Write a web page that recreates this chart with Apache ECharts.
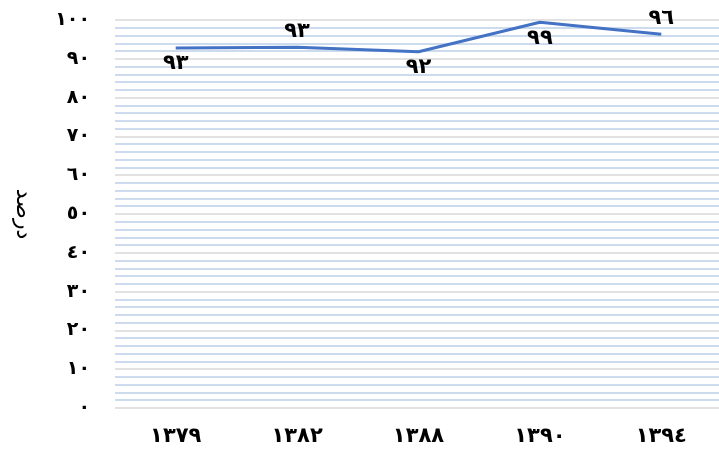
<!DOCTYPE html>
<html><head><meta charset="utf-8">
<script src="https://cdn.jsdelivr.net/npm/echarts@6/dist/echarts.min.js"></script>
<style>html,body{margin:0;padding:0;background:#fff}#c{width:719px;height:452px}</style>
</head><body><div id="c"></div>
<script>
var categories = ['1379', '1382', '1388', '1390', '1394'];
var values = [92.8, 93.0, 91.8, 99.4, 96.3];
var labelPositions = ['bottom', 'top', 'bottom', 'bottom', 'top'];
var axisTitle = 'درصد';

var digits = '٠١٢٣٤٥٦٧٨٩';
function fa(s) { return String(s).replace(/[0-9]/g, function (d) { return digits[+d]; }); }
var labelOffsets = [[-10, 2], [0, 0], [6, 0], [0, 0], [0, 0]];

var chart = echarts.init(document.getElementById('c'));
var FONT = 'DejaVu Sans';
chart.setOption({
  animation: false,
  grid: { left: 115, top: 20, width: 607, bottom: 44, outerBoundsMode: 'none', containLabel: false },
  xAxis: {
    type: 'category', data: categories, boundaryGap: true,
    axisLine: { show: false }, axisTick: { show: false },
    axisLabel: { formatter: function (v) { return fa(v); }, fontFamily: FONT, fontWeight: 'bold', fontSize: 21, color: '#000', margin: 18 }
  },
  yAxis: {
    type: 'value', min: 0, max: 100, interval: 10,
    name: axisTitle, nameLocation: 'middle', nameRotate: -90, nameGap: 81,
    nameTextStyle: { fontFamily: FONT, fontSize: 22, color: '#000' },
    axisLine: { show: false }, axisTick: { show: false },
    axisLabel: { formatter: function (v) { return fa(v); }, fontFamily: FONT, fontWeight: 'bold', fontSize: 19, color: '#000', margin: 25 },
    splitLine: { show: true, lineStyle: { color: '#d9d9d9', width: 1.5 } },
    minorTick: { show: false, splitNumber: 5 },
    minorSplitLine: { show: true, lineStyle: { color: '#bdd0ea', width: 1.5 } }
  },
  series: [{
    type: 'line', data: values.map(function (v, i) {
      return { value: v, label: { show: true, position: labelPositions[i], offset: labelOffsets[i] } };
    }),
    symbol: 'circle', symbolSize: 1, showSymbol: true,
    itemStyle: { color: 'rgba(68,114,196,0)' },
    lineStyle: { color: '#4472c4', width: 3 },
    label: { show: true, formatter: function (p) { return fa(Math.round(p.value)); }, fontFamily: FONT, fontWeight: 'bold', fontSize: 21, color: '#000', distance: 5 },
    labelLayout: { hideOverlap: false }
  }]
});
</script></body></html>
